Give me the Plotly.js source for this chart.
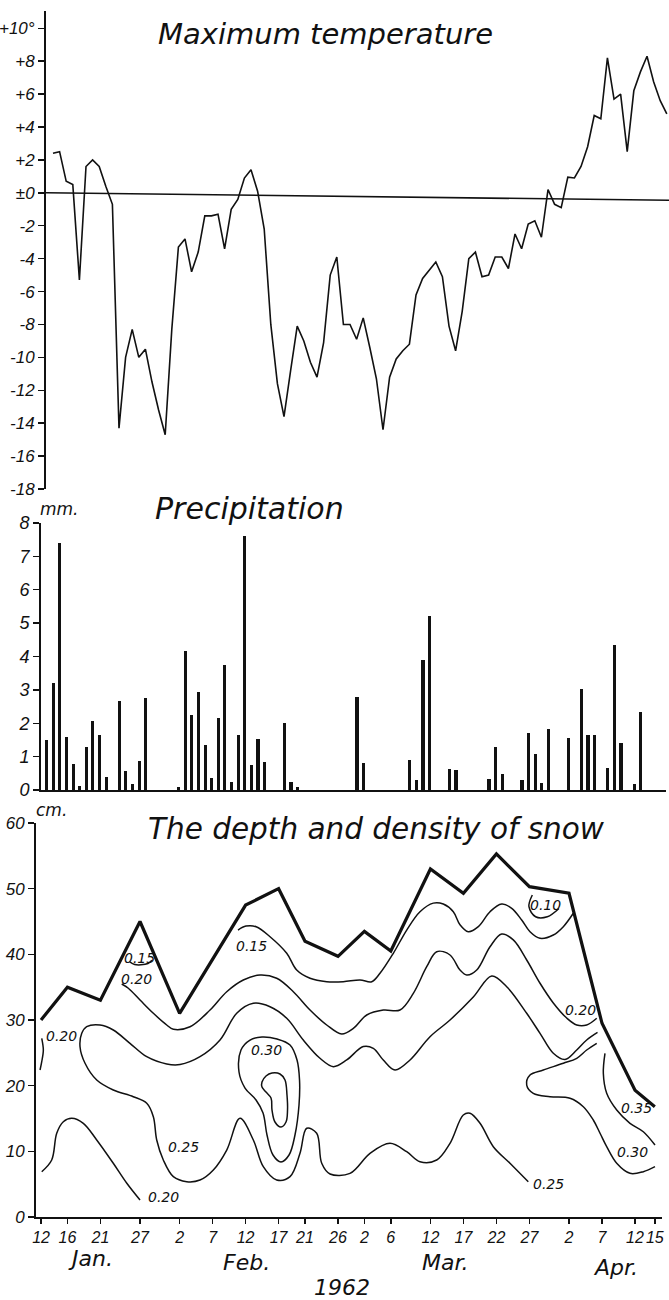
<!DOCTYPE html>
<html><head><meta charset="utf-8">
<script src="https://cdn.plot.ly/plotly-3.0.1.min.js"></script>
<style>html,body{margin:0;padding:0;background:#fff}#chart{width:669px;height:1300px}</style>
</head><body><div id="chart"></div>
<script>
// ---------- DATA (day numbers = day of year 1962: Jan 12 = 12, Feb 2 = 33, Mar 2 = 61, Apr 2 = 92) ----------
const tempDays = [12,13,14,15,16,17,18,19,20,21,22,23,24,25,26,27,28,29,30,31,32,33,34,35,36,37,38,39,40,41,42,43,44,45,46,47,48,49,50,51,52,53,54,55,56,57,58,59,60,61,62,63,64,65,66,67,68,69,70,71,72,73,74,75,76,77,78,79,80,81,82,83,84,85,86,87,88,89,90,91,92,93,94,95,96,97,98,99,100,101,102,103,104,105];
const tempMax = [2.4,2.5,0.7,0.5,-5.3,1.6,2.0,1.6,0.4,-0.7,
  -14.3,-10.0,-8.3,-10.0,-9.5,-11.5,-13.2,-14.7,-8.3,-3.3,
  -2.8,-4.8,-3.6,-1.4,-1.4,-1.3,-3.4,-1.0,-0.4,0.9,
  1.4,0.1,-2.2,-8.0,-11.6,-13.6,-10.8,-8.1,-9.0,-10.3,
  -11.2,-9.1,-5.0,-3.9,-8.0,-8.0,-8.9,-7.6,-9.4,-11.3,
  -14.4,-11.2,-10.1,-9.6,-9.2,-6.2,-5.2,-4.7,-4.2,-5.1,
  -8.1,-9.6,-7.2,-4.0,-3.6,-5.1,-5.0,-3.9,-3.9,-4.6,
  -2.5,-3.4,-1.9,-1.7,-2.7,0.2,-0.7,-0.9,0.95,0.9,
  1.6,2.8,4.7,4.5,8.2,5.7,6.0,2.5,6.2,7.35,
  8.3,6.75,5.6,4.8];
const tempTickVals = [10,8,6,4,2,0,-2,-4,-6,-8,-10,-12,-14,-16,-18];
const tempTickText = ['+10°','+8','+6','+4','+2','±0','-2','-4','-6','-8','-10','-12','-14','-16','-18'];

const precipDays = [12,13,14,15,16,17,18,19,20,21,23,24,25,26,27,32,33,34,35,36,37,38,39,40,41,42,43,44,45,48,49,50,59,60,67,68,69,70,73,74,79,80,81,84,85,86,87,88,91,93,94,95,97,98,99,101,102];
const precipMm = [1.5,3.2,7.4,1.6,0.78,0.12,1.28,2.08,1.66,0.38,
  2.68,0.58,0.17,0.86,2.75,
  0.1,4.15,2.25,2.95,1.35,0.35,2.15,3.75,0.25,1.65,7.6,0.75,1.52,0.83,
  2.0,0.25,0.08,
  2.8,0.8,
  0.9,0.3,3.9,5.2,
  0.62,0.6,
  0.33,1.28,0.48,
  0.3,1.72,1.07,0.22,1.83,
  1.55,
  3.03,1.65,1.65,
  0.65,4.33,1.42,
  0.17,2.35];
const precipTickVals = [0,1,2,3,4,5,6,7,8];

const depthDays = [12,16,21,27,33,43,48,52,57,61,65,71,76,81,86,92,97,102,105];
const depthCm = [30,35,33,45,31,47.5,50,42,39.7,43.5,40.5,53,49.3,55.3,50.3,49.3,29.5,19.3,16.8];

const snowTickDays = [12,16,21,27,33,38,43,48,52,57,61,65,71,76,81,86,92,97,102,105];
const snowTickText = ['12','16','21','27','2','7','12','17','21','26','2','6','12','17','22','27','2','7','12','15'];
const snowYTicks = [0,10,20,30,40,50,60];

// density isolines (day, cm)
const iso010Day = [86.44,85.93,86.94,88.71,90.48];
const iso010Cm  = [49.03,47.25,45.72,45.72,46.98];
const iso015aDay = [25.4,26.2,27.15,28.2,28.8];
const iso015aCm  = [38.9,38.45,38.4,38.6,39.1];
const iso015bDay = [41.85,43.06,44.6,46.7,49.23,50.74,52.76,55.29,57.8,60.33,62.11,63.36,65.38,67.41,69.42,71.44,72.95,74.47,75.48,76.74,78.26,80.03,81.8,83.32,84.83,86.09,87.61,89.62,91.14,92.65];
const iso015bCm  = [43.7,44.3,44.2,42.68,40.16,37.61,36.35,35.83,35.83,36.09,35.83,37.11,40.16,43.7,46.49,47.8,47.66,46.49,44.5,43.44,44.21,46.49,47.66,47.01,45.23,43.44,42.44,42.94,44.21,46.25];
const iso020aDay = [24.23,25.23,27.0,29.02,31.05,32.05,34.58,37.61,40.14,42.65,45.18,47.71,50.23,52.76,55.29,57.56,59.32,61.35,63.86,66.39,68.41,70.44,71.95,73.97,75.48,76.5,78.02,80.03,81.8,83.56,85.59,87.61,89.62,91.65,93.17,94.68,96.2];
const iso020aCm  = [35.48,34.83,33.04,31.02,29.24,28.58,28.97,31.52,34.31,36.09,36.85,36.35,34.31,31.52,29.24,27.87,28.73,30.76,31.52,31.52,34.06,38.11,40.4,39.9,37.61,36.85,37.61,41.16,43.1,42.2,39.14,35.6,32.6,30.3,29.24,29.24,30.26];
const iso020bDay = [12.11,12.35,12.11,11.85];
const iso020bCm  = [27.2,25.43,23.65,22.38];
const iso020cDay = [12.11,13.62,14.38,15.38,16.65,18.41,20.44,22.95,25.0,27.0];
const iso020cCm  = [6.9,8.68,12.75,14.51,15.03,14.27,11.73,8.18,5.13,2.59];
const iso025Day = [96.32,94.68,93.17,91.39,89.62,87.61,85.59,82.56,80.29,77.5,73.97,70.94,67.91,65.64,63.86,62.35,60.83,58.32,56.29,54.27,51.74,49.23,46.7,44.17,41.65,39.12,36.09,33.06,31.05,28.02,25.48,22.95,20.94,18.92,18.17,
  17.91,18.67,20.44,22.95,25.98,28.02,29.02,29.53,30.53,32.05,34.08,36.09,38.11,40.14,42.15,44.17,45.68,47.71,49.73,51.24,52.26,53.77,54.53,55.79,58.82,61.85,64.88,67.41,69.42,71.95,73.97,75.98,77.0,78.52,80.53,83.06,85.83];
const iso025Cm  = [28.1,26.95,25.43,23.98,24.93,27.97,31.02,35.07,36.7,33.5,30.0,27.46,23.91,22.38,23.91,25.69,25.96,23.91,22.89,24.17,26.95,30.26,32.02,32.54,31.02,26.95,24.41,23.22,23.3,24.41,26.45,28.48,29.24,28.98,27.97,
  25.93,23.41,20.86,19.34,18.32,17.31,15.27,11.73,8.68,6.14,5.38,5.63,7.16,10.2,15.03,11.73,7.66,5.63,6.14,9.7,13.51,12.75,8.18,6.55,6.65,9.7,11.22,9.94,8.42,8.68,11.22,15.53,15.79,14.27,10.71,8.18,5.38];
const iso030aDay = [42.3,43.67,45.48,47.76,49.73,50.79,51.17,51.09,50.48,49.58,48.36,47.15,46.24,45.64,44.58,42.91,42.0,42.3];
const iso030aCm  = [25.43,26.95,27.41,27.1,26.19,23.91,20.86,17.06,12.49,9.44,8.38,9.44,12.49,15.84,17.82,19.64,22.08,25.43];
const iso030innerDay = [45.48,46.09,47.0,48.21,48.97,49.27,49.35,49.12,48.36,47.45,47.0,46.85,46.09,45.48,45.48];
const iso030innerCm  = [20.56,21.47,21.93,21.78,20.86,18.58,16.29,14.47,13.7,14.47,16.29,18.12,19.03,19.8,20.56];
const iso030bDay = [96.2,94.68,93.17,91.14,88.11,86.09,85.59,86.59,89.12,92.15,94.17,95.68,96.7,97.71,99.23,101.24,103.26,105.03];
const iso030bCm  = [26.45,25.43,24.17,23.41,22.38,21.62,20.1,18.84,18.32,18.08,16.8,14.77,12.75,10.71,8.18,6.65,6.9,7.66];
const iso035Day = [97.45,97.2,97.71,99.23,101.24,103.26,105.03];
const iso035Cm  = [24.93,21.88,18.84,16.29,14.27,12.99,10.96];

const isoLabels = ['0.15','0.20','0.20','0.15','0.30','0.25','0.20','0.25','0.10','0.20','0.35','0.30'];

// ---------- LAYOUT HELPERS ----------
const W = 669, H = 1300;
const fx = p => p / W;
const fy = p => 1 - p / H;
const FONT = 'DejaVu Sans';
const TFONT = 'Liberation Sans';
const INK = '#111';

const isoLine = (x, y) => ({x, y, type:'scatter', mode:'lines', xaxis:'x3', yaxis:'y3',
  line:{color:INK, width:1.5, shape:'spline', smoothing:1}, hoverinfo:'skip'});

const traces = [
  {x:tempDays, y:tempMax, type:'scatter', mode:'lines', xaxis:'x', yaxis:'y', line:{color:INK, width:1.6}},
  {x:precipDays, y:precipMm, type:'bar', xaxis:'x2', yaxis:'y2', width:0.48, marker:{color:INK, line:{width:0}}},
  {x:depthDays, y:depthCm, type:'scatter', mode:'lines', xaxis:'x3', yaxis:'y3', line:{color:INK, width:3.2}},
  isoLine(iso010Day, iso010Cm),
  isoLine(iso015aDay, iso015aCm),
  isoLine(iso015bDay, iso015bCm),
  isoLine(iso020aDay, iso020aCm),
  isoLine(iso020bDay, iso020bCm),
  isoLine(iso020cDay, iso020cCm),
  isoLine(iso025Day, iso025Cm),
  isoLine(iso030aDay, iso030aCm),
  isoLine(iso030innerDay, iso030innerCm),
  isoLine(iso030bDay, iso030bCm),
  isoLine(iso035Day, iso035Cm)
];

const tickFont = s => ({family:TFONT, size:s, color:INK, style:'italic'});
const axisY = {showline:true, linewidth:2, linecolor:INK, ticks:'outside', ticklen:6, tickwidth:1.4, tickcolor:INK,
  showgrid:false, zeroline:false, fixedrange:true};

// label positions (day, cm) for isolines
const isoLabelPos = [[26.85,39.4],[26.4,36.2],[15.03,27.5],[43.9,41.2],[46.2,25.4],[33.6,10.7],[30.6,3.1],[88.9,5.1],[88.4,47.5],[93.7,31.5],[102.3,16.55],[101.6,9.94]];

const ann = [];
const txt = (text, x, y, size, extra) => Object.assign({text:'<i>'+text+'</i>', xref:'paper', yref:'paper', x:fx(x), y:fy(y),
  showarrow:false, xanchor:'center', yanchor:'middle', font:{family:FONT, size:size, color:INK, weight:300}}, extra||{});
ann.push(txt('Maximum temperature', 325, 34, 29));
ann.push(txt('Precipitation', 249, 508, 30));
ann.push(txt('The depth and density of snow', 376, 829, 29.5));
ann.push(txt('mm.', 59, 509, 17));
ann.push(txt('cm.', 52, 810, 17));
ann.push(txt('Jan.', 90, 1258, 22));
ann.push(txt('Feb.', 247, 1262, 22));
ann.push(txt('Mar.', 445, 1262, 22));
ann.push(txt('Apr.', 615, 1267, 22));
ann.push(txt('1962', 342, 1287, 22));
isoLabels.forEach((t, i) => ann.push({text:'<i>'+t+'</i>', xref:'x3', yref:'y3', x:isoLabelPos[i][0], y:isoLabelPos[i][1],
  showarrow:false, xanchor:'center', yanchor:'middle', font:{family:FONT, size:14, color:INK}}));

const layout = {
  width:W, height:H, margin:{l:0, r:0, t:0, b:0}, paper_bgcolor:'#fff', plot_bgcolor:'rgba(0,0,0,0)',
  showlegend:false, bargap:0,
  xaxis:{domain:[fx(46), 1], range:[10.94, 105.33], anchor:'y', visible:false, fixedrange:true},
  yaxis:Object.assign({}, axisY, {domain:[fy(489), fy(11)], range:[-18, 11.05], anchor:'x',
    tickvals:tempTickVals, ticktext:tempTickText, tickfont:tickFont(17)}),
  xaxis2:{domain:[fx(41), fx(666)], range:[11.14, 105.82], anchor:'y2', showline:true, linewidth:2, linecolor:INK,
    showticklabels:false, ticks:'', showgrid:false, zeroline:false, fixedrange:true},
  yaxis2:Object.assign({}, axisY, {domain:[fy(790), fy(523)], range:[0, 8], anchor:'x2',
    tickvals:precipTickVals, tickfont:tickFont(18)}),
  xaxis3:{domain:[fx(36), fx(662)], range:[11.24, 106.09], anchor:'y3', showline:true, linewidth:2, linecolor:INK,
    ticks:'outside', ticklen:5, tickwidth:1.4, tickcolor:INK, tickvals:snowTickDays, ticktext:snowTickText,
    tickangle:0, tickfont:tickFont(16), showgrid:false, zeroline:false, fixedrange:true},
  yaxis3:Object.assign({}, axisY, {domain:[fy(1217), fy(823)], range:[0, 60], anchor:'x3',
    tickvals:snowYTicks, tickfont:tickFont(17)}),
  shapes:[{type:'line', xref:'x', yref:'y', x0:10.94, y0:0, x1:105.33, y1:-0.45, line:{color:INK, width:1.6}}],
  annotations:ann
};

Plotly.newPlot('chart', traces, layout, {displayModeBar:false, staticPlot:true});
</script></body></html>
